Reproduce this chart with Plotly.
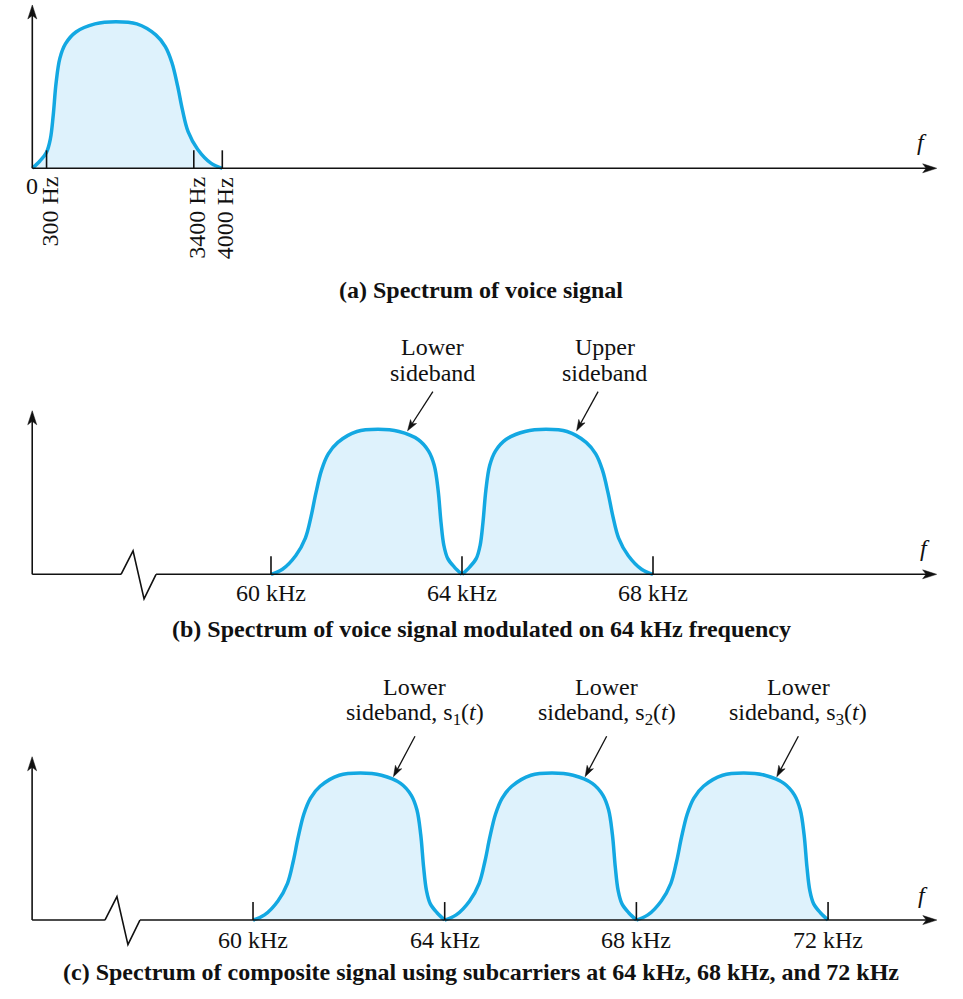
import math
import plotly.graph_objects as go

# ---------------- data ----------------
# normalised voice-band spectrum profile: fraction of band -> relative amplitude
PROFILE_U = [0, 0.04, 0.075, 0.095, 0.11, 0.125, 0.145, 0.175, 0.23, 0.33, 0.44,
             0.55, 0.65, 0.70, 0.735, 0.765, 0.79, 0.82, 0.87, 0.94, 1.0]
PROFILE_A = [0, 0.05, 0.11, 0.20, 0.36, 0.58, 0.75, 0.85, 0.93, 0.985, 1.0,
             0.985, 0.91, 0.83, 0.72, 0.56, 0.40, 0.25, 0.13, 0.035, 0]

VOICE_BAND_HZ = 4000
A_TICKS_HZ = [300, 3400, 4000]
A_TICK_LABELS = ["300 Hz", "3400 Hz", "4000 Hz"]

B_CARRIER_KHZ = 64
B_SIDEBANDS = ["lower", "upper"]
B_SIDEBAND_LABELS = ["Lower", "Upper"]
B_TICKS_KHZ = [60, 64, 68]
B_TICK_LABELS = ["60 kHz", "64 kHz", "68 kHz"]

C_CARRIERS_KHZ = [64, 68, 72]
C_SIGNAL_LABELS = ["s<sub>1</sub>(<i>t</i>)", "s<sub>2</sub>(<i>t</i>)", "s<sub>3</sub>(<i>t</i>)"]
C_TICKS_KHZ = [60, 64, 68, 72]
C_TICK_LABELS = ["60 kHz", "64 kHz", "68 kHz", "72 kHz"]

CAPTIONS = [
    "(a) Spectrum of voice signal",
    "(b) Spectrum of voice signal modulated on 64 kHz frequency",
    "(c) Spectrum of composite signal using subcarriers at 64 kHz, 68 kHz, and 72 kHz",
]

# ---------------- style ----------------
BLUE = "#13a8e2"
FILL = "rgba(200,234,250,0.6)"
BLACK = "#111111"
FONT = "Times New Roman, Liberation Serif, serif"
FS = 24
LW = 1.6
TICK_PX = 18
W, H = 963, 999

fig = go.Figure()

AX = {
    "a": dict(x="x", y="y", xr=[-680, 19594], yr=[-5.666, 1.148]),
    "b": dict(x="x2", y="y2", xr=[54.325, 74.492], yr=[-2.929, 3.961]),
    "c": dict(x="x3", y="y3", xr=[54.720, 74.816], yr=[-0.537, 6.259]),
}


def hump(panel, start, width, mirrored):
    xs = [(start + width - width * u) if mirrored else (start + width * u) for u in PROFILE_U]
    fig.add_trace(go.Scatter(
        x=xs, y=PROFILE_A, xaxis=AX[panel]["x"], yaxis=AX[panel]["y"],
        mode="lines", line=dict(color=BLUE, width=3.5, shape="spline", smoothing=1.0),
        fill="tozeroy", fillcolor=FILL, hoverinfo="skip", showlegend=False))


hump("a", 0, VOICE_BAND_HZ, False)
for sb in B_SIDEBANDS:
    if sb == "lower":
        hump("b", B_CARRIER_KHZ - VOICE_BAND_HZ / 1000, VOICE_BAND_HZ / 1000, True)
    else:
        hump("b", B_CARRIER_KHZ, VOICE_BAND_HZ / 1000, False)
for c in C_CARRIERS_KHZ:
    hump("c", c - VOICE_BAND_HZ / 1000, VOICE_BAND_HZ / 1000, True)

shapes = []
ann = []


def line(panel, x0, y0, x1, y1, width=LW):
    shapes.append(dict(type="line", xref=AX[panel]["x"], yref=AX[panel]["y"],
                       x0=x0, y0=y0, x1=x1, y1=y1, layer="above",
                       line=dict(color=BLACK, width=width)))


def head_path(ux, uy, length, half):
    # tip at origin, pointing along (ux, uy) in pixel space (y up)
    nx, ny = -uy, ux
    bx, by = -length * ux, -length * uy
    mx, my = -0.75 * length * ux, -0.75 * length * uy
    p1 = (bx + half * nx, by + half * ny)
    p2 = (bx - half * nx, by - half * ny)
    return "M0,0 L%.2f,%.2f L%.2f,%.2f L%.2f,%.2f Z" % (p1[0], p1[1], mx, my, p2[0], p2[1])


def head(panel, x, y, ux, uy, length=14, half=4.5):
    shapes.append(dict(type="path", xref=AX[panel]["x"], yref=AX[panel]["y"],
                       xsizemode="pixel", ysizemode="pixel", xanchor=x, yanchor=y,
                       path=head_path(ux, uy, length, half), fillcolor=BLACK,
                       line=dict(color=BLACK, width=0.5), layer="above"))


def tick(panel, x):
    shapes.append(dict(type="line", xref=AX[panel]["x"], yref=AX[panel]["y"],
                       ysizemode="pixel", yanchor=0, x0=x, x1=x, y0=0, y1=TICK_PX,
                       layer="above", line=dict(color=BLACK, width=LW)))


def zigzag(panel, x):
    shapes.append(dict(type="path", xref=AX[panel]["x"], yref=AX[panel]["y"],
                       xsizemode="pixel", ysizemode="pixel", xanchor=x, yanchor=0,
                       path="M0,0 L12,23.5 L23,-24.5 L35,0", layer="above",
                       line=dict(color=BLACK, width=LW)))


def text(panel, x, y, s, size=FS, **kw):
    d = dict(xref=AX[panel]["x"], yref=AX[panel]["y"], x=x, y=y, text=s, showarrow=False,
             font=dict(family=FONT, size=size, color=BLACK))
    d.update(kw)
    ann.append(d)


def pointer(panel, xt, yt, xs, ys):
    xr, yr = AX[panel]["xr"], AX[panel]["yr"]
    kx = W / (xr[1] - xr[0])
    ky = H / (yr[1] - yr[0])
    dx, dy = (xt - xs) * kx, (yt - ys) * ky
    n = math.hypot(dx, dy)
    ux, uy = dx / n, dy / n
    # shaft stops inside the head
    line(panel, xs, ys, xt - ux * 6 / kx, yt - uy * 6 / ky, width=1.3)
    head(panel, xt, yt, ux, uy, length=11, half=3.6)


Y_TOP = 1.12

# ---- panel a axes ----
A_ORIGIN, A_END = 0, 19040
line("a", A_ORIGIN, 0, A_ORIGIN, Y_TOP - 0.05)
head("a", A_ORIGIN, 1.114, 0, 1)
line("a", A_ORIGIN, 0, A_END - 200, 0)
head("a", A_END, 0, 1, 0)
for t, lab in zip(A_TICKS_HZ, A_TICK_LABELS):
    tick("a", t)
    text("a", t, -0.045, lab, textangle=-90, xanchor="center", yanchor="top", xshift=3)
text("a", A_ORIGIN, -0.12, "0", xanchor="center", yanchor="middle")
text("a", 18724, 0.18, "<i>f</i>", xanchor="center", yanchor="middle")

# ---- panel b axes ----
B_ORIGIN, B_BREAK, B_BREAK_END, B_END = 55.0, 56.86, 57.593, 73.94
line("b", B_ORIGIN, 0, B_ORIGIN, Y_TOP - 0.05)
head("b", B_ORIGIN, 1.128, 0, 1)
line("b", B_ORIGIN, 0, B_BREAK, 0)
zigzag("b", B_BREAK)
line("b", B_BREAK_END, 0, B_END - 0.2, 0)
head("b", B_END, 0, 1, 0)
for t, lab in zip(B_TICKS_KHZ, B_TICK_LABELS):
    tick("b", t)
    text("b", t, -0.129, lab, xanchor="center", yanchor="middle")
text("b", 73.70, 0.18, "<i>f</i>", xanchor="center", yanchor="middle")
B_LABEL_X = [63.39, 66.99]
B_TIP_X = [62.86, 66.40]
B_TAIL_X = [63.39, 66.85]
for lab, lx, tx, sx in zip(B_SIDEBAND_LABELS, B_LABEL_X, B_TIP_X, B_TAIL_X):
    text("b", lx, 1.570, lab, xanchor="center", yanchor="middle")
    text("b", lx, 1.388, "sideband", xanchor="center", yanchor="middle")
    pointer("b", tx, 0.99, sx, 1.26)

# ---- panel c axes ----
C_ORIGIN, C_BREAK, C_BREAK_END, C_END = 55.39, 56.91, 57.64, 74.27
line("c", C_ORIGIN, 0, C_ORIGIN, Y_TOP - 0.05)
head("c", C_ORIGIN, 1.111, 0, 1)
line("c", C_ORIGIN, 0, C_BREAK, 0)
zigzag("c", C_BREAK)
line("c", C_BREAK_END, 0, C_END - 0.2, 0)
head("c", C_END, 0, 1, 0)
for t, lab in zip(C_TICKS_KHZ, C_TICK_LABELS):
    tick("c", t)
    text("c", t, -0.136, lab, xanchor="center", yanchor="middle")
text("c", 73.98, 0.17, "<i>f</i>", xanchor="center", yanchor="middle")
for c, sig in zip(C_CARRIERS_KHZ, C_SIGNAL_LABELS):
    start = c - VOICE_BAND_HZ / 1000
    lx = start + 3.38
    text("c", lx, 1.585, "Lower", xanchor="center", yanchor="middle")
    text("c", lx, 1.405, "sideband, " + sig, xanchor="center", yanchor="middle")
    pointer("c", start + 2.93, 0.975, start + 3.38, 1.25)

# ---- captions ----
for cap, yp in zip(CAPTIONS, [0.7097, 0.3704, 0.027]):
    ann.append(dict(xref="paper", yref="paper", x=0.4995, y=yp, text="<b>" + cap + "</b>",
                    showarrow=False, xanchor="center", yanchor="middle",
                    font=dict(family=FONT, size=FS, color=BLACK)))

layout_axes = {}
for key, name in [("a", ""), ("b", "2"), ("c", "3")]:
    layout_axes["xaxis" + name] = dict(range=AX[key]["xr"], domain=[0, 1], visible=False,
                                       anchor="y" + name, fixedrange=True)
    layout_axes["yaxis" + name] = dict(range=AX[key]["yr"], domain=[0, 1], visible=False,
                                       anchor="x" + name, fixedrange=True)

fig.update_layout(
    width=W, height=H, margin=dict(l=0, r=0, t=0, b=0),
    paper_bgcolor="white", plot_bgcolor="rgba(0,0,0,0)",
    showlegend=False, shapes=shapes, annotations=ann, **layout_axes)

fig.write_html("out.html", config={"displayModeBar": False})
